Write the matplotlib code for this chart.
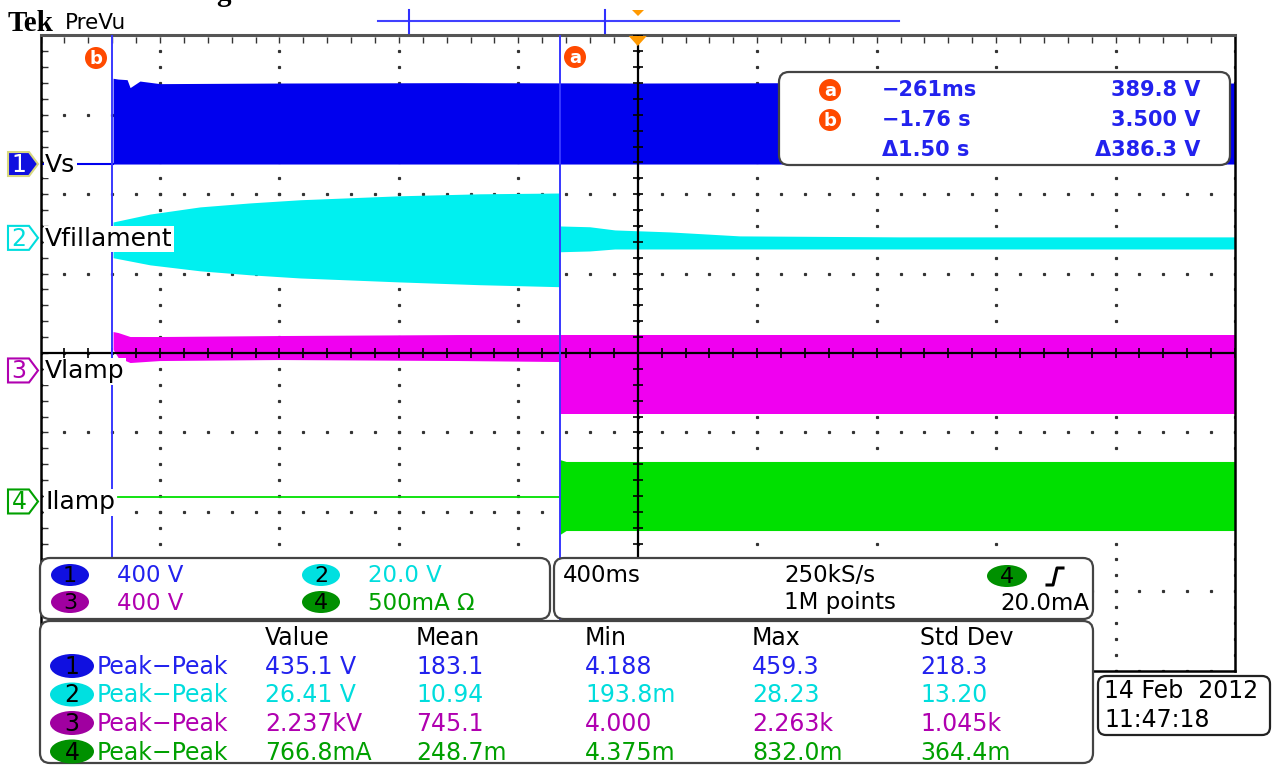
#!/usr/bin/env python3
"""
Tek PreVu oscilloscope screen capture - lamp ignition (Vs, Vfillament, Vlamp, Ilamp)
"""

import matplotlib.pyplot as plt
from matplotlib.patches import FancyBboxPatch, Ellipse, Polygon, Circle
import numpy as np

# timebase / cursors (seconds, trigger at t = 0)
SEC_PER_DIV = 0.4
T_CURSOR_A = -0.261
T_CURSOR_B = -1.76

# channel names, scale per division, ground position (divisions from centre)
ch_names = ["Vs", "Vfillament", "Vlamp", "Ilamp"]
ch_scale = [400.0, 20.0, 400.0, 0.5]
ch_offset = [2.38, 1.45, -0.22, -1.87]

# Ch1 Vs (V): flat before cursor b, then rectified band from ground up to envelope
ch1_t = [-1.757, -1.74, -1.71, -1.70, -1.667, -1.60, -1.2, -0.6, 0.0, 0.6, 1.2, 2.0]
ch1_top = [432, 428, 425, 385, 418, 405, 408, 410, 408, 410, 408, 408]

# Ch2 Vfillament (V): growing envelope while preheating, narrow after ignition
ch2_pre_t = [-1.757, -1.633, -1.466, -1.299, -1.131, -0.797, -0.529, -0.261]
ch2_pre_top = [4.0, 6.0, 7.8, 8.8, 9.6, 10.6, 11.1, 11.3]
ch2_pre_bot = [-5.0, -6.8, -8.3, -9.3, -10.1, -11.1, -11.8, -12.3]
ch2_post_t = [-0.261, -0.161, -0.077, 0.107, 0.341, 0.877, 2.0]
ch2_post_top = [3.0, 2.8, 2.0, 1.5, 0.5, 0.25, 0.25]
ch2_post_bot = [-3.5, -3.3, -2.8, -2.8, -2.8, -2.8, -2.8]

# Ch3 Vlamp (V)
ch3_pre_t = [-1.757, -1.74, -1.70, -1.6, -1.2, -0.6, -0.261]
ch3_pre_top = [196, 191, 171, 171, 176, 181, 181]
ch3_pre_bot = [106, 65, 40, 50, 55, 50, 45]
ch3_post_t = [-0.261, 2.0]
ch3_post_top = [181, 181]
ch3_post_bot = [-217, -217]

# Ch4 Ilamp (A)
ch4_pre_t = [-1.74, -0.261]
ch4_pre_val = [0.031, 0.031]
ch4_post_t = [-0.261, -0.24, 2.0]
ch4_post_top = [0.264, 0.252, 0.252]
ch4_post_bot = [-0.208, -0.183, -0.183]

# readouts
cursor_rows = [("a", "\u2212261ms", "389.8 V"), ("b", "\u22121.76 s", "3.500 V"), ("", "\u03941.50 s", "\u0394386.3 V")]
ch_settings = ["400 V", "20.0 V", "400 V", "500mA \u03a9"]
meas_headers = ["Value", "Mean", "Min", "Max", "Std Dev"]
meas_rows = [
    ["435.1 V", "183.1", "4.188", "459.3", "218.3"],
    ["26.41 V", "10.94", "193.8m", "28.23", "13.20"],
    ["2.237kV", "745.1", "4.000", "2.263k", "1.045k"],
    ["766.8mA", "248.7m", "4.375m", "832.0m", "364.4m"],
]
date_text = ["14 Feb  2012", "11:47:18"]

# colours
WAVE = ["#0000EE", "#00F0F0", "#F000F0", "#00E000"]
TEXT = ["#2222EE", "#00DDDD", "#B000B0", "#00A000"]
BADGE = ["#1010E0", "#00E0E0", "#A000A0", "#009000"]
ORANGE = "#FF4A00"
CURSOR = "#3838FF"
FONT = "DejaVu Sans"


def to_div(ch, values):
    return ch_offset[ch] + np.asarray(values, dtype=float) / ch_scale[ch]


fig = plt.figure(figsize=(12.77, 7.65), dpi=100)
fig.patch.set_facecolor("white")

# ---------- graticule + waveforms ----------
W, H = 1277.0, 765.0
gx0, gx1, gy0, gy1 = 40.5, 1235.0, 35.4, 670.6
ax = fig.add_axes([gx0 / W, 1 - gy1 / H, (gx1 - gx0) / W, (gy1 - gy0) / H])
ax.set_xlim(-5 * SEC_PER_DIV, 5 * SEC_PER_DIV)
ax.set_ylim(-4, 4)
ax.set_xticks([])
ax.set_yticks([])
for side in ["left", "right", "bottom"]:
    ax.spines[side].set_color("black")
    ax.spines[side].set_linewidth(1.8)
ax.spines["top"].set_color("#555555")
ax.spines["top"].set_linewidth(2.2)

# dotted grid
minor_x = np.arange(-5, 5.01, 0.2) * SEC_PER_DIV
minor_y = np.arange(-4, 4.01, 0.2)
for k in range(-4, 5):
    ax.plot(minor_x, np.full_like(minor_x, k), ls="none", marker="s", ms=1.3, color="#333333", zorder=1)
for k in range(-5, 6):
    ax.plot(np.full_like(minor_y, k * SEC_PER_DIV), minor_y, ls="none", marker="s", ms=1.3, color="#333333", zorder=1)
# edge ticks
ax.plot(minor_x, np.full_like(minor_x, 3.94), ls="none", marker="|", ms=4, mew=1.0, color="#333333", zorder=1)
ax.plot(np.full_like(minor_y, -1.985), minor_y, ls="none", marker="_", ms=4, mew=1.0, color="#333333", zorder=1)

# waveforms
ax.plot([-2.0, ch1_t[0]], to_div(0, [0, 0]), color=WAVE[0], lw=1.5, zorder=2)
ax.fill_between(ch1_t, to_div(0, np.zeros(len(ch1_t))), to_div(0, ch1_top), color=WAVE[0], lw=0, zorder=2)

ax.fill_between(ch2_pre_t, to_div(1, ch2_pre_bot), to_div(1, ch2_pre_top), color=WAVE[1], lw=0, zorder=2)
ax.fill_between(ch2_post_t, to_div(1, ch2_post_bot), to_div(1, ch2_post_top), color=WAVE[1], lw=0, zorder=2)

ax.fill_between(ch3_pre_t, to_div(2, ch3_pre_bot), to_div(2, ch3_pre_top), color=WAVE[2], lw=0, zorder=2)
ax.fill_between(ch3_post_t, to_div(2, ch3_post_bot), to_div(2, ch3_post_top), color=WAVE[2], lw=0, zorder=2)

ax.plot(ch4_pre_t, to_div(3, ch4_pre_val), color=WAVE[3], lw=1.3, zorder=2)
ax.fill_between(ch4_post_t, to_div(3, ch4_post_bot), to_div(3, ch4_post_top), color=WAVE[3], lw=0, zorder=2)

# centre cross with minor ticks
ax.axhline(0, color="black", lw=1.6, zorder=3)
ax.axvline(0, color="black", lw=1.6, zorder=3)
ax.plot(minor_x, np.zeros_like(minor_x), ls="none", marker="|", ms=7, mew=1.2, color="black", zorder=3)
ax.plot(np.zeros_like(minor_y), minor_y, ls="none", marker="_", ms=7, mew=1.2, color="black", zorder=3)

# cursors
ax.axvline(T_CURSOR_A, color=CURSOR, lw=1.4, zorder=4)
ax.axvline(T_CURSOR_B, color=CURSOR, lw=1.4, zorder=4)

# ---------- overlay in pixel coordinates ----------
ov = fig.add_axes([0, 0, 1, 1], zorder=10)
ov.set_xlim(0, W)
ov.set_ylim(H, 0)
ov.set_facecolor("none")
ov.axis("off")


def px_x(t):
    return gx0 + (t / SEC_PER_DIV + 5) * (gx1 - gx0) / 10


def px_y(div):
    return gy0 + (4 - div) * (gy1 - gy0) / 8


def rbox(x0, y0, x1, y1, r=10, ec="#444444"):
    ov.add_patch(FancyBboxPatch((x0 + r, y0 + r), x1 - x0 - 2 * r, y1 - y0 - 2 * r,
                                boxstyle=f"round,pad={r}", fc="white", ec=ec, lw=1.6))


def badge(x, y, letter):
    ov.add_patch(Circle((x, y), 11, fc=ORANGE, ec="none"))
    ov.text(x, y + 1, letter, color="white", fontsize=13, fontweight="bold", ha="center", va="center", family=FONT)


# header (caption above the capture is cropped at the top edge, as in the original)
ov.text(216, 1, "g", fontsize=21, fontweight="bold", family="Liberation Serif", ha="left", va="baseline")
ov.text(8, 31, "Tek", fontsize=21, fontweight="bold", family="Liberation Serif", ha="left", va="baseline")
ov.text(65, 29, "PreVu", fontsize=15.5, family=FONT, ha="left", va="baseline")

# record view bar
ov.plot([378, 899], [20.5, 20.5], color="#4040FF", lw=1.5)
for xt in [409, 605]:
    ov.plot([xt, xt], [10, 33], color="#3030FF", lw=1.5)
ov.add_patch(Polygon([(632, 10), (644, 10), (638, 16)], closed=True, fc="#FF9900", ec="none"))

# trigger marker
tx = px_x(0)
ov.add_patch(Polygon([(tx - 9, 36), (tx + 9, 36), (tx, 46)], closed=True, fc="#FF9900", ec="none"))

# cursor badges
badge(96, 58, "b")
badge(575, 57, "a")

# cursor readout box
rbox(779, 72, 1230, 165)
for i, (lab, tval, vval) in enumerate(cursor_rows):
    y = 90 + 30 * i
    if lab:
        badge(830, y, lab)
    ov.text(882, y, tval, color=TEXT[0], fontsize=15, fontweight="bold", family=FONT, ha="left", va="center")
    ov.text(1200, y, vval, color=TEXT[0], fontsize=15, fontweight="bold", family=FONT, ha="right", va="center")

# channel reference markers + labels
for ch in range(4):
    y = px_y(ch_offset[ch])
    pts = [(8, y - 12), (29, y - 12), (38, y), (29, y + 12), (8, y + 12)]
    if ch == 0:
        ov.add_patch(Polygon(pts, closed=True, fc=BADGE[0], ec="#D8D880", lw=1.5))
        ov.text(19, y + 1, "1", color="white", fontsize=17, family=FONT, ha="center", va="center")
    else:
        ov.add_patch(Polygon(pts, closed=True, fc="white", ec=TEXT[ch], lw=1.5))
        ov.text(19, y + 1, str(ch + 1), color=TEXT[ch], fontsize=17, family=FONT, ha="center", va="center")
    ov.text(45, y + 1, ch_names[ch], color="black", fontsize=18, family=FONT, ha="left", va="center",
            bbox=dict(boxstyle="square,pad=0.05", fc="white", ec="none"))

# channel settings box
rbox(40, 558, 550, 619)
for i, txt in enumerate(ch_settings):
    cx = 70 if i % 2 == 0 else 321
    y = 575 if i < 2 else 602
    ov.add_patch(Ellipse((cx, y), 38, 22, fc=BADGE[i], ec="none"))
    ov.text(cx, y + 1, str(i + 1), color="black", fontsize=16, family=FONT, ha="center", va="center")
    ov.text(cx + 47, y + 1, txt, color=TEXT[i], fontsize=16.5, family=FONT, ha="left", va="center")

# timebase / trigger box
rbox(554, 558, 1093, 619)
ov.text(563, 576, "400ms", fontsize=16.5, family=FONT, ha="left", va="center")
ov.text(784, 576, "250kS/s", fontsize=16.5, family=FONT, ha="left", va="center")
ov.text(784, 603, "1M points", fontsize=16.5, family=FONT, ha="left", va="center")
ov.text(1089, 603, "20.0mA", fontsize=16.5, family=FONT, ha="right", va="center")
ov.add_patch(Ellipse((1007, 576), 40, 22, fc=BADGE[3], ec="none"))
ov.text(1007, 577, "4", color="black", fontsize=16, family=FONT, ha="center", va="center")
ov.plot([1047, 1053, 1057, 1063], [585, 585, 568, 568], color="black", lw=2.2)

# measurement table
rbox(40, 621, 1093, 763)
col_x = [265, 416, 585, 752, 920]
for j, hdr in enumerate(meas_headers):
    ov.text(col_x[j], 638, hdr, fontsize=17, family=FONT, ha="left", va="center")
for i, row in enumerate(meas_rows):
    y = 666 + 28.5 * i
    ov.add_patch(Ellipse((72, y), 44, 24, fc=BADGE[i], ec="none"))
    ov.text(72, y + 1, str(i + 1), color="black", fontsize=17, family=FONT, ha="center", va="center")
    ov.text(97, y + 1, "Peak\u2212Peak", color=TEXT[i], fontsize=17, family=FONT, ha="left", va="center")
    for j, val in enumerate(row):
        ov.text(col_x[j], y + 1, val, color=TEXT[i], fontsize=17, family=FONT, ha="left", va="center")

# date box
rbox(1098, 676, 1270, 735, r=8, ec="#222222")
ov.text(1104, 691, date_text[0], fontsize=17, family=FONT, ha="left", va="center")
ov.text(1104, 720, date_text[1], fontsize=17, family=FONT, ha="left", va="center")

fig.savefig("out.png", dpi=100, facecolor="white")
